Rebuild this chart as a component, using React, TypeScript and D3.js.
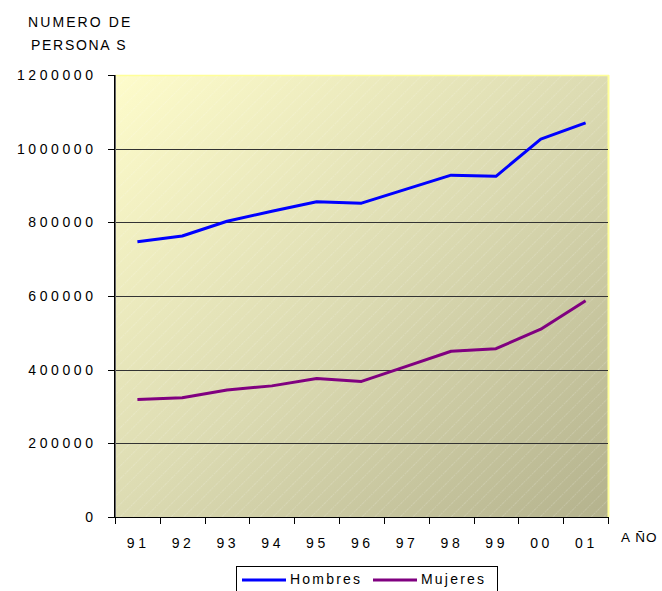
import React from "react";
import * as d3 from "d3";

const years = ["91", "92", "93", "94", "95", "96", "97", "98", "99", "00", "01"];
const hombres = [747000, 763000, 803000, 830000, 856000, 852000, 890000, 928000, 925000, 1026000, 1070000];
const mujeres = [319000, 324000, 345000, 356000, 376000, 368000, 409000, 450000, 457000, 510000, 587000];
const yTicks = [0, 200000, 400000, 600000, 800000, 1000000, 1200000];
const seriesNames = ["Hombres", "Mujeres"];
const seriesColors = ["#0000ff", "#800080"];

const W = 662, H = 591;
const left = 115, right = 608, top = 75, bottom = 517;
const font = "'Liberation Sans', Arial, sans-serif";
const ls = 3.6;

export default function App() {
  const x = d3.scaleBand<string>().domain(years).range([left, right]);
  const y = d3.scaleLinear().domain([0, 1200000]).range([bottom, top]);
  const line = d3
    .line<number>()
    .x((_, i) => (x(years[i]) as number) + x.bandwidth() / 2)
    .y((d) => y(d));
  const series = [hombres, mujeres];
  const xTickPos = years.map((yr) => x(yr) as number).concat([right]);

  return (
    <svg width={W} height={H} style={{ position: "absolute", left: 0, top: 0 }} fontFamily={font}>
      <defs>
        <linearGradient id="bg" x1="0" y1="0" x2="1" y2="1">
          <stop offset="0" stopColor="#fefccb" />
          <stop offset="0.5" stopColor="#dcdbb2" />
          <stop offset="1" stopColor="#b4b28d" />
        </linearGradient>
        <pattern id="hatch" width="9" height="9" patternUnits="userSpaceOnUse" patternTransform="rotate(45)">
          <line x1="0" y1="0" x2="0" y2="9" stroke="#ffffff" strokeOpacity="0.35" strokeWidth="1" strokeDasharray="1.5 1" />
        </pattern>
      </defs>
      <rect x={0} y={0} width={W} height={H} fill="#ffffff" />
      <rect x={left} y={top} width={right - left} height={bottom - top} fill="url(#bg)" />
      <rect x={left} y={top} width={right - left} height={bottom - top} fill="url(#hatch)" />
      <line x1={left} y1={top + 0.5} x2={right + 1} y2={top + 0.5} stroke="#ffff99" strokeWidth={1.5} />
      <line x1={right + 0.5} y1={top} x2={right + 0.5} y2={bottom} stroke="#ffff99" strokeWidth={2} />
      {yTicks.filter((t) => t > 0 && t < 1200000).map((t) => (
        <line key={t} x1={left} x2={right} y1={Math.round(y(t)) + 0.5} y2={Math.round(y(t)) + 0.5} stroke="#333333" strokeWidth={1} />
      ))}
      <line x1={left - 0.5} x2={left - 0.5} y1={top} y2={bottom} stroke="#000" strokeWidth={1} />
      <line x1={left + 0.5} x2={left + 0.5} y1={top} y2={bottom} stroke="#666" strokeWidth={1} />
      <line x1={left} x2={right + 1} y1={bottom + 0.5} y2={bottom + 0.5} stroke="#000" strokeWidth={1} />
      {yTicks.map((t) => (
        <g key={t}>
          <line x1={left - 7} x2={left} y1={Math.round(y(t)) + 0.5} y2={Math.round(y(t)) + 0.5} stroke="#000" />
          <text x={93 + ls} y={y(t) + 5} textAnchor="end" fontSize={14} letterSpacing={ls} fill="#000">
            {t}
          </text>
        </g>
      ))}
      {xTickPos.map((p, i) => (
        <line key={i} x1={Math.round(p) + 0.5} x2={Math.round(p) + 0.5} y1={bottom} y2={bottom + 7} stroke="#000" />
      ))}
      {years.map((yr) => (
        <text key={yr} x={(x(yr) as number) + x.bandwidth() / 2 + ls / 2 - 1} y={548} textAnchor="middle" fontSize={14} letterSpacing={ls} fill="#000">
          {yr}
        </text>
      ))}
      {series.map((s, i) => (
        <path key={i} d={line(s) as string} fill="none" stroke={seriesColors[i]} strokeWidth={3} strokeLinejoin="round" />
      ))}
      <text x={28} y={27} fontSize={14} letterSpacing={2.1} fill="#000">NUMERO DE</text>
      <text x={31} y={50} fontSize={14} letterSpacing={1.7} fill="#000">PERSONA S</text>
      <text x={621} y={542} fontSize={13.5} letterSpacing={1.1} fill="#000">A ÑO</text>
      <rect x={236.5} y={566.5} width={261} height={30} fill="#ffffff" stroke="#000" strokeWidth={1} />
      {seriesNames.map((n, i) => {
        const lx = i === 0 ? 242 : 373;
        return (
          <g key={n}>
            <line x1={lx} x2={lx + 44} y1={580} y2={580} stroke={seriesColors[i]} strokeWidth={3} />
            <text x={lx + 48} y={584} fontSize={14} letterSpacing={2.2} fill="#000">{n}</text>
          </g>
        );
      })}
    </svg>
  );
}
